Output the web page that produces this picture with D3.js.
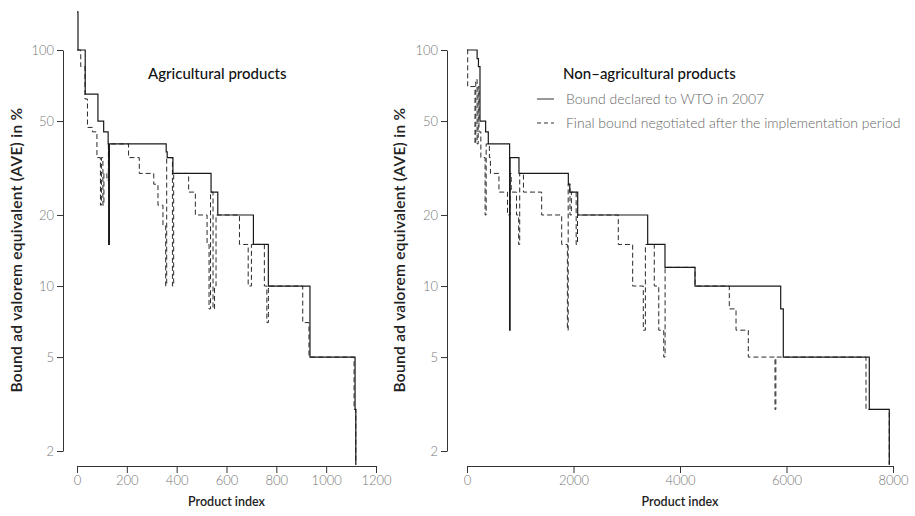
<!DOCTYPE html>
<html>
<head>
<meta charset="utf-8">
<script src="https://cdn.jsdelivr.net/npm/d3@7"></script>
<style>
  body { margin: 0; background: #fff; }
  svg { font-family: Lato, "Open Sans", sans-serif; }
</style>
</head>
<body>
<svg width="915" height="516"></svg>
<script>
// step data: [product index, bound in %]
const agriDeclared = [
  [0, 145], [4, 100], [33, 65], [84, 50], [107, 45], [125, 40], [127, 15], [130, 40],
  [358, 37], [362, 35], [385, 30], [538, 25], [565, 20], [708, 15], [768, 10],
  [935, 5], [1116, 3], [1119, 1.75]
];
const agriFinal = [
  [0, 100], [15, 85], [32, 62], [42, 47], [62, 45], [80, 35], [94, 22], [98, 35],
  [104, 22], [108, 30], [120, 28], [126, 40], [207, 35], [250, 30], [308, 27],
  [325, 22], [345, 18], [356, 10], [360, 35], [383, 10], [388, 30], [448, 25],
  [475, 20], [522, 15], [530, 8], [536, 25], [546, 8], [552, 10], [558, 20],
  [652, 15], [687, 10], [700, 15], [752, 10], [762, 7], [768, 10], [906, 7],
  [931, 5], [1112, 3], [1119, 1.75]
];
const nonAgriDeclared = [
  [0, 100], [190, 92], [215, 85], [244, 50], [350, 45], [400, 40], [800, 6.5],
  [810, 35], [976, 30], [1903, 27], [1930, 25], [2079, 20], [3393, 15], [3718, 12],
  [4282, 10], [5891, 8], [5940, 5], [7555, 3], [7930, 1.75]
];
const nonAgriFinal = [
  [0, 100], [13, 70], [150, 40], [165, 75], [190, 40], [210, 70], [225, 45],
  [260, 35], [300, 35], [340, 20], [360, 40], [420, 35], [440, 30], [600, 25],
  [760, 20], [810, 30], [830, 25], [930, 20], [970, 15], [990, 30], [1060, 25],
  [1402, 20], [1778, 15], [1885, 6.5], [1900, 27], [1934, 20], [1960, 25],
  [2050, 15], [2075, 20], [2841, 15], [3111, 10], [3311, 6.5], [3350, 15],
  [3517, 10], [3601, 6.5], [3695, 5], [3720, 12], [4282, 10], [4926, 8],
  [5052, 6.5], [5283, 5], [5784, 3], [5800, 5], [7493, 3], [7930, 1.75]
];
const yTicks = [2, 5, 10, 20, 50, 100];
const agriXTicks = [0, 200, 400, 600, 800, 1000, 1200];
const nonAgriXTicks = [0, 2000, 4000, 6000, 8000];
const legendLabels = ["Bound declared to WTO in 2007", "Final bound negotiated after the implementation period"];

const svg = d3.select("svg");

function drawPanel(p) {
  let x = d3.scaleLinear().domain(p.xDomain).range(p.xRange);
  let y = d3.scaleLog().domain([2, 100]).range([451, 50]);
  let line = d3.line().x(d => x(d[0])).y(d => y(d[1])).curve(d3.curveStepAfter);

  svg.append("path").datum(p.final).attr("d", line)
    .attr("fill", "none").attr("stroke", "#2a2a2a").attr("stroke-width", 1)
    .attr("stroke-dasharray", "5,3");
  svg.append("path").datum(p.declared).attr("d", line)
    .attr("fill", "none").attr("stroke", "#1a1a1a").attr("stroke-width", 1.2);

  let leftAxis = d3.axisLeft(y).tickValues(yTicks).tickFormat(d3.format("d")).tickSize(6).tickSizeOuter(0);
  let gy = svg.append("g").attr("transform", `translate(${p.yAxisX},0)`).call(leftAxis);

  let bottomAxis = d3.axisBottom(x).tickValues(p.xTicks).tickFormat(d3.format("d")).tickSize(7).tickSizeOuter(0);
  let gx = svg.append("g").attr("transform", "translate(0,466)").call(bottomAxis);

  [gx, gy].forEach(g => {
    g.select(".domain").attr("stroke", "#333");
    g.selectAll(".tick line").attr("stroke", "#333");
    g.selectAll(".tick text").attr("fill", "#777").style("font-size", "13px")
      .style("font-family", "Lato, sans-serif").style("font-weight", 300);
  });

  svg.append("text").attr("transform", `translate(${p.yTitleX},250) rotate(-90)`)
    .attr("text-anchor", "middle").attr("fill", "#222")
    .style("font-size", "15.5px").style("font-weight", 600).style("letter-spacing", "0.3px")
    .text("Bound ad valorem equivalent (AVE) in %");

  svg.append("text").attr("x", (p.xRange[0] + p.xRange[1]) / 2).attr("y", 506)
    .attr("text-anchor", "middle").attr("fill", "#222")
    .style("font-size", "12.5px").style("font-weight", 600)
    .text("Product index");

  svg.append("text").attr("x", p.titleX).attr("y", 79)
    .attr("fill", "#111").style("font-size", "15px").style("font-weight", 500)
    .text(p.title);
}

drawPanel({
  declared: agriDeclared, final: agriFinal, xDomain: [0, 1200], xRange: [77, 376],
  xTicks: agriXTicks, yAxisX: 63, yTitleX: 22, titleX: 148, title: "Agricultural products"
});
drawPanel({
  declared: nonAgriDeclared, final: nonAgriFinal, xDomain: [0, 8000], xRange: [467, 893],
  xTicks: nonAgriXTicks, yAxisX: 447, yTitleX: 405, titleX: 563, title: "Non\u2013agricultural products"
});

// legend
let legend = svg.append("g").selectAll("g").data(legendLabels).enter().append("g")
  .attr("transform", (d, i) => `translate(537,${99 + i * 24})`);
legend.append("line").attr("x1", 0).attr("x2", 17).attr("y1", 0).attr("y2", 0)
  .attr("stroke", "#333").attr("stroke-width", 1)
  .attr("stroke-dasharray", (d, i) => i ? "4,3" : null);
legend.append("text").attr("x", 29).attr("y", 5).attr("fill", "#666")
  .style("font-size", "14px").style("font-weight", 300).text(d => d);
</script>
</body>
</html>
